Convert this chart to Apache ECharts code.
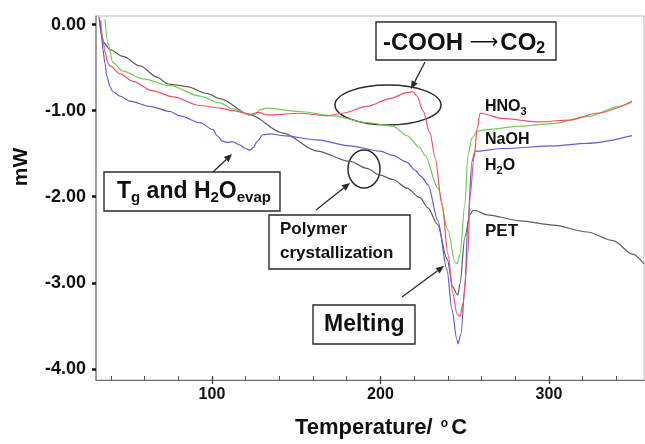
<!DOCTYPE html>
<html>
<head>
<meta charset="utf-8">
<script src="https://cdn.jsdelivr.net/npm/echarts@6/dist/echarts.min.js"></script>
<style>
  html, body { margin: 0; padding: 0; background: #fff; }
  #chart { width: 645px; height: 444px; }
</style>
</head>
<body>
<div id="chart"></div>
<script>
// DSC heat-flow traces (temperature in °C, heat flow in mW)
const petTemp = [33.0, 35.3, 39.5, 47.2, 57.3, 67.4, 73.9, 78.0, 85.2, 97.0, 104.7, 122.6, 142.1, 162.3, 181.9, 192.0, 199.7, 207.4, 215.7, 223.4, 228.2, 233.8, 239.5, 243.0, 245.4, 246.0, 247.2, 250.1, 253.1, 254.9, 256.1, 263.2, 282.8, 302.4, 322.6, 338.0, 349.9, 356.4];
const petFlow = [0.09, -0.20, -0.29, -0.37, -0.48, -0.61, -0.69, -0.70, -0.72, -0.80, -0.86, -1.05, -1.26, -1.47, -1.59, -1.67, -1.75, -1.80, -1.90, -2.01, -2.13, -2.32, -2.72, -3.05, -3.13, -3.14, -3.01, -2.47, -2.21, -2.16, -2.16, -2.21, -2.28, -2.33, -2.41, -2.51, -2.67, -2.78];

const hno3Temp = [34.0, 35.2, 36.5, 38.3, 39.5, 45.4, 53.1, 65.0, 76.9, 92.9, 104.7, 112.5, 122.6, 127.5, 132.6, 152.2, 168.2, 177.7, 192.0, 205.6, 215.7, 219.5, 221.7, 225.2, 229.4, 232.5, 236.5, 240.1, 243.0, 245.4, 247.2, 249.0, 251.9, 253.1, 255.5, 257.5, 259.1, 272.7, 292.9, 312.5, 328.5, 349.3];
const hno3Flow = [0.05, -0.15, -0.32, -0.45, -0.48, -0.57, -0.66, -0.77, -0.84, -0.94, -0.97, -1.00, -1.04, -1.02, -1.05, -1.03, -1.06, -1.03, -0.95, -0.86, -0.79, -0.78, -0.83, -1.00, -1.26, -1.55, -2.09, -2.67, -3.13, -3.36, -3.39, -3.24, -2.67, -2.01, -1.55, -1.20, -1.03, -1.09, -1.13, -1.11, -1.03, -0.89];

const naohTemp = [36.5, 38.3, 41.2, 47.2, 59.1, 75.1, 92.9, 104.7, 112.5, 122.6, 126.0, 128.5, 132.6, 152.2, 171.8, 192.0, 207.4, 215.7, 223.4, 226.4, 234.1, 240.1, 244.2, 245.4, 247.2, 250.1, 251.9, 254.3, 257.3, 263.2, 282.8, 302.4, 322.6, 342.1, 349.3];
const naohFlow = [0.06, -0.21, -0.44, -0.54, -0.63, -0.71, -0.83, -0.91, -0.98, -1.05, -1.04, -0.99, -0.97, -1.01, -1.06, -1.14, -1.18, -1.29, -1.43, -1.52, -1.90, -2.39, -2.76, -2.78, -2.67, -2.09, -1.52, -1.32, -1.24, -1.22, -1.18, -1.15, -1.07, -0.95, -0.90];

const h2oTemp = [33.5, 34.5, 35.3, 36.5, 37.7, 39.5, 41.2, 45.4, 51.3, 63.2, 75.1, 81.0, 92.9, 100.6, 103.0, 106.0, 109.0, 112.0, 116.6, 120.0, 122.6, 124.5, 126.7, 130.3, 135.0, 142.1, 162.3, 181.9, 199.7, 207.4, 215.7, 220.5, 224.0, 228.2, 234.1, 239.5, 242.4, 245.4, 246.0, 247.8, 250.1, 251.9, 254.3, 256.1, 257.3, 272.7, 302.4, 322.6, 349.3];
const h2oFlow = [0.03, -0.10, -0.29, -0.45, -0.60, -0.72, -0.78, -0.83, -0.89, -0.95, -1.01, -1.06, -1.14, -1.22, -1.29, -1.35, -1.37, -1.36, -1.40, -1.44, -1.46, -1.43, -1.36, -1.28, -1.27, -1.29, -1.34, -1.41, -1.47, -1.52, -1.60, -1.69, -1.76, -1.86, -2.28, -2.85, -3.31, -3.66, -3.71, -3.59, -3.05, -2.28, -1.59, -1.47, -1.47, -1.44, -1.41, -1.38, -1.29];

// Axis ticks and labels
const xMajorTicks = [100, 200, 300];
const xMinorTicks = [40, 60, 80, 120, 140, 160, 180, 220, 240, 260, 280, 320, 340];
const yTicks = [0, -1, -2, -3, -4];

const pairs = (xs, ys) => xs.map((x, i) => [x, ys[i]]);

const FONT = 'Arial, "Liberation Sans", sans-serif';
const INK = '#2b2b2b';
const GRID = { left: 96, right: 1, top: 16, bottom: 60 };
const PLOT_H = 444 - GRID.top - GRID.bottom;

function trace(name, xs, ys, color) {
  return {
    name, type: 'line', data: pairs(xs, ys),
    showSymbol: false, smooth: 0.3, smoothMonotone: 'x',
    lineStyle: { color, width: 1.2 }, silent: true
  };
}

// annotation helpers
function arrow(x1, y1, x2, y2) {
  const a = Math.atan2(y2 - y1, x2 - x1), L = 8, W = 3.5;
  const bx = x2 - L * Math.cos(a), by = y2 - L * Math.sin(a);
  return [
    { type: 'line', shape: { x1, y1, x2: bx, y2: by }, style: { stroke: INK, lineWidth: 1.3 } },
    { type: 'polygon', shape: { points: [[x2, y2], [bx + W * Math.sin(a), by - W * Math.cos(a)], [bx - W * Math.sin(a), by + W * Math.cos(a)]] }, style: { fill: INK } }
  ];
}
function box(x, y, w, h) {
  return { type: 'rect', shape: { x, y, width: w, height: h }, style: { fill: '#fff', stroke: INK, lineWidth: 1.4 } };
}
function ring(cx, cy, rx, ry) {
  return { type: 'ellipse', shape: { cx, cy, rx, ry }, style: { fill: 'none', stroke: INK, lineWidth: 1.5 } };
}
function label(x, y, text, size, rich) {
  return {
    type: 'text', x, y, z: 10,
    style: {
      text, fill: '#111', fontFamily: FONT, fontWeight: 'bold', fontSize: size,
      verticalAlign: 'middle', align: 'left', rich: rich || {}
    }
  };
}
const subRich = (size, sub, drop) => ({
  b: { fontFamily: FONT, fontWeight: 'bold', fontSize: size, fill: '#111', verticalAlign: 'top', lineHeight: size + 2 },
  s: { fontFamily: FONT, fontWeight: 'bold', fontSize: sub, fill: '#111', verticalAlign: 'top', padding: [drop, 0, 0, 0] }
});

const chart = echarts.init(document.getElementById('chart'), null, { renderer: 'canvas' });

chart.setOption({
  animation: false,
  backgroundColor: '#fff',
  grid: Object.assign({ show: true, borderColor: '#b8b8b8', borderWidth: 1 }, GRID),
  xAxis: [
    {
      type: 'value', min: 31.2, max: 356.4, position: 'bottom',
      name: '{t|Temperature/ }{s|o}{t|C}', nameLocation: 'middle', nameGap: 37,
      nameTextStyle: {
        padding: [0, 0, 0, 22],
        rich: {
          t: { fontFamily: FONT, fontWeight: 'bold', fontSize: 22, color: '#111', verticalAlign: 'top', lineHeight: 24 },
          s: { fontFamily: FONT, fontWeight: 'bold', fontSize: 12, color: '#111', verticalAlign: 'top', padding: [1, 3, 0, 2] }
        }
      },
      axisLine: { show: true, onZero: false, lineStyle: { color: '#6e6e6e', width: 1.2 } },
      axisTick: { show: true, inside: true, length: 4, customValues: xMinorTicks, lineStyle: { color: '#555', width: 1 } },
      axisLabel: { customValues: xMajorTicks, margin: 7, fontFamily: FONT, fontWeight: 'bold', fontSize: 16, color: '#111' },
      splitLine: { show: false }
    },
    {
      // companion axis carrying only the longer ticks at the labelled temperatures,
      // shifted down from the top edge onto the bottom edge
      type: 'value', min: 31.2, max: 356.4, position: 'top', offset: -PLOT_H,
      axisLine: { show: false },
      axisTick: { show: true, inside: false, length: 8, customValues: xMajorTicks, lineStyle: { color: '#444', width: 1.3 } },
      axisLabel: { show: false },
      splitLine: { show: false }
    }
  ],
  yAxis: {
    type: 'value', min: -4.13, max: 0.1,
    axisLine: { show: true, onZero: false, lineStyle: { color: '#8c8c8c', width: 1.5 } },
    axisTick: { show: true, inside: false, length: 4, customValues: yTicks, lineStyle: { color: '#111', width: 2.5 } },
    axisLabel: {
      customValues: yTicks, margin: 10, fontFamily: FONT, fontWeight: 'bold', fontSize: 18, color: '#111',
      formatter: v => v.toFixed(2)
    },
    splitLine: { show: false }
  },
  series: [
    trace('PET', petTemp, petFlow, '#5e5e5e'),
    trace('H2O', h2oTemp, h2oFlow, '#6060d0'),
    trace('NaOH', naohTemp, naohFlow, '#6fcf58'),
    trace('HNO3', hno3Temp, hno3Flow, '#f25462')
  ],
  graphic: [
    { type: 'text', x: 21, y: 167, rotation: Math.PI / 2,
      style: { text: 'mW', fontFamily: FONT, fontWeight: 'bold', fontSize: 21, fill: '#111', align: 'center', verticalAlign: 'middle' } },

    // carboxyl decarboxylation
    ring(388, 105, 53, 20),
    ...arrow(425, 62, 411, 89),
    box(376, 22, 180, 38),
    label(383, 44, '{b|-COOH }{a|\u27F6}{b|CO}{s|2}', 24, Object.assign(subRich(24, 16, 10), {
      a: { fontFamily: 'DejaVu Sans', fontSize: 20, fill: '#111', verticalAlign: 'top', lineHeight: 26, padding: [2, 2, 0, 0] }
    })),

    // glass transition / water loss
    ...arrow(212, 173, 232, 154),
    box(104, 172, 176, 39),
    label(117, 193, '{b|T}{s|g}{b| and H}{s|2}{b|O}{s|evap}', 23, subRich(23, 15, 10)),

    // cold crystallization
    ring(364, 169, 16, 19),
    ...arrow(316, 210, 350, 183),
    box(269, 215, 141, 54),
    { type: 'text', x: 280, y: 241, z: 10,
      style: { text: 'Polymer\ncrystallization', fontFamily: FONT, fontWeight: 'bold', fontSize: 17, lineHeight: 24, fill: '#111', verticalAlign: 'middle', align: 'left' } },

    // melting endotherm
    ...arrow(402, 297, 444, 266),
    box(313, 305, 102, 39),
    label(324, 325, 'Melting', 23),

    // trace labels
    label(485, 108, '{b|HNO}{s|3}', 16, subRich(16, 11, 7)),
    label(485, 140, 'NaOH', 16),
    label(485, 167, '{b|H}{s|2}{b|O}', 16, subRich(16, 11, 7)),
    label(485, 231, 'PET', 17)
  ]
});
</script>
</body>
</html>
